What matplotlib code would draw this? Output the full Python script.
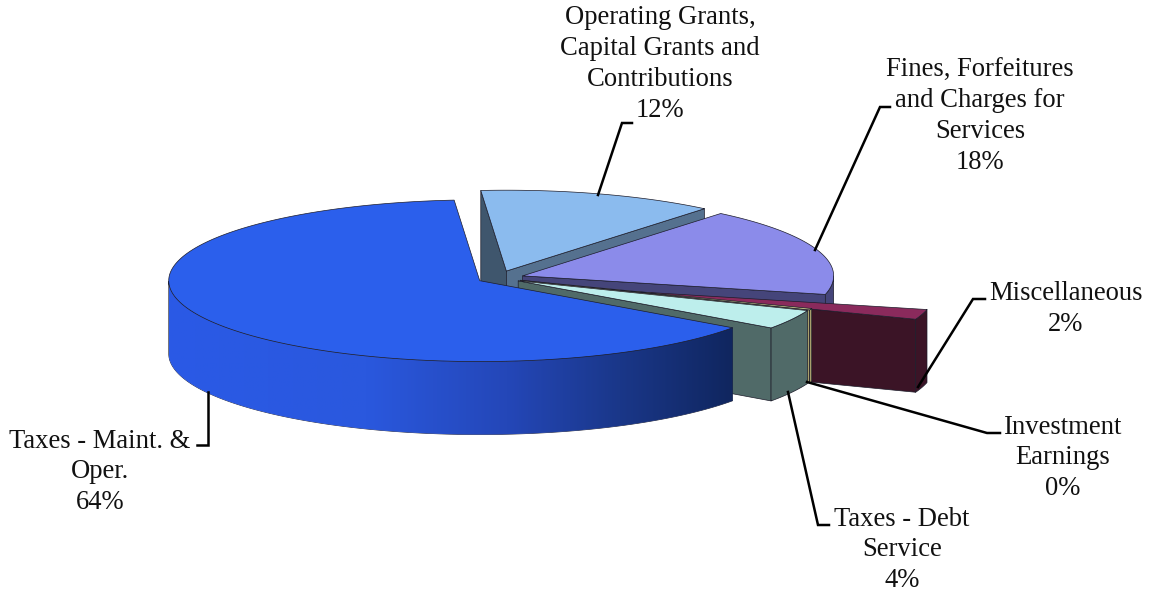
import numpy as np
import matplotlib
matplotlib.use("Agg")
import matplotlib.pyplot as plt
from matplotlib.colors import LinearSegmentedColormap
from matplotlib.patches import Polygon

# revenue shares in percent, clockwise from the lower right edge
categories = ["Taxes - Maint. &\nOper.",
              "Operating Grants,\nCapital Grants and\nContributions",
              "Fines, Forfeitures\nand Charges for\nServices",
              "Miscellaneous",
              "Investment\nEarnings",
              "Taxes - Debt\nService"]
shares = [63.8, 12.3, 17.7, 2.0, 0.3, 3.9]

explode = [21, 28, 26, 132, 24, 23]
drop = [0, 0, 0, 3, 0, 0]
depths = [73, 90, 73, 73, 73, 73]
top_colors = ["#2b5fec", "#8bbbee", "#8b8bea", "#8a2a5c", "#c9c48c", "#bdeeec"]
side_colors = ["#1d3f9f", "#55718f", "#45457a", "#3b1426", "#a8a06c", "#506a68"]
back_wall_colors = [None, "#3f566d", None, None, None, None]
draw_order = [1, 2, 3, 4, 5, 0]

label_pos = [(100, 441), (660, 18), (980, 70), (1066, 294), (1063, 427), (902, 519)]
leaders = [[(208, 392), (208, 445), (197, 445)],
           [(598, 195), (622, 123), (632, 123)],
           [(815, 250), (880, 107), (890, 107)],
           [(918, 387), (973, 299), (985, 299)],
           [(807, 382), (987, 433), (1000, 433)],
           [(788, 392), (818, 525), (829, 525)]]

CENTER = (498.0, 278.0)
RADIUS = 311.0
SQUASH = 0.26
START_ANGLE = 324.4

fig = plt.figure(figsize=(11.54, 5.92), dpi=100)
ax = fig.add_axes([0, 0, 1, 1])
ax.set_xlim(0, 1154)
ax.set_ylim(592, 0)
ax.axis("off")

# side shading of the big slice, lighter on the left
rim_cmap = LinearSegmentedColormap.from_list(
    "rim", [(0.0, "#2a5ae6"), (0.35, "#2a58de"), (0.6, "#2447b8"), (0.8, "#1a3789"), (1.0, "#10265f")])


def project(angle, radius, origin):
    a = np.radians(angle)
    return origin[0] + radius * np.cos(a), origin[1] - radius * np.sin(a) * SQUASH


def draw_slice(theta_hi, theta_lo, offset, shift, depth, top, side, back_wall, gradient=False):
    mid = np.radians((theta_hi + theta_lo) / 2)
    apex = (CENTER[0] + offset * np.cos(mid), CENTER[1] - offset * np.sin(mid) * SQUASH + shift)
    line = dict(edgecolor="#1c1c2a", linewidth=0.5, joinstyle="round")

    # walls along the two cut edges, only those facing the viewer
    for angle, visible, color in [(theta_hi, np.cos(np.radians(theta_hi)) < 0, back_wall or side),
                                  (theta_lo, np.cos(np.radians(theta_lo)) > 0, side)]:
        if visible:
            px, py = project(angle, RADIUS, apex)
            ax.add_patch(Polygon([apex, (px, py), (px, py + depth), (apex[0], apex[1] + depth)],
                                 facecolor=color, **line))

    # outer rim, front half of the circle only
    thetas = np.linspace(theta_lo, theta_hi, 400)
    thetas = thetas[np.sin(np.radians(thetas)) < 0]
    if len(thetas) > 1:
        xs, ys = project(thetas, RADIUS, apex)
        rim = np.r_[np.c_[xs, ys], np.c_[xs, ys + depth][::-1]]
        if gradient:
            patch = Polygon(rim, facecolor="none", **line)
            ax.add_patch(patch)
            img = ax.imshow(np.linspace(0, 1, 256)[None, :], cmap=rim_cmap, aspect="auto",
                            extent=(xs.min(), xs.max(), ys.max() + depth, ys.min()), zorder=patch.get_zorder())
            img.set_clip_path(patch)
            ax.set_xlim(0, 1154)
            ax.set_ylim(592, 0)
        else:
            ax.add_patch(Polygon(rim, facecolor=side, **line))

    # top face
    arc = np.linspace(theta_lo, theta_hi, 300)
    xs, ys = project(arc, RADIUS, apex)
    ax.add_patch(Polygon(np.r_[[apex], np.c_[xs, ys]], facecolor=top, **line))


# angle spans going clockwise from the starting edge
sweep = np.array(shares) / sum(shares) * 360
upper = START_ANGLE - np.r_[0, np.cumsum(sweep)[:-1]]
lower = upper - sweep

for i in draw_order:
    draw_slice(upper[i], lower[i], explode[i], drop[i], depths[i], top_colors[i], side_colors[i],
               back_wall_colors[i], gradient=(i == 0))

for pts in leaders:
    xs, ys = zip(*pts)
    ax.plot(xs, ys, color="black", lw=1.8, solid_joinstyle="miter", zorder=5)

for name, value, (x, y) in zip(categories, shares, label_pos):
    lines = name.split("\n") + [f"{value:.0f}%"]
    for k, text in enumerate(lines):
        ax.text(x, y + k * 30.7, text, family="Liberation Serif", fontsize=19.2,
                ha="center", va="center", color="#111111", zorder=6)

fig.savefig("out.png", dpi=100)
